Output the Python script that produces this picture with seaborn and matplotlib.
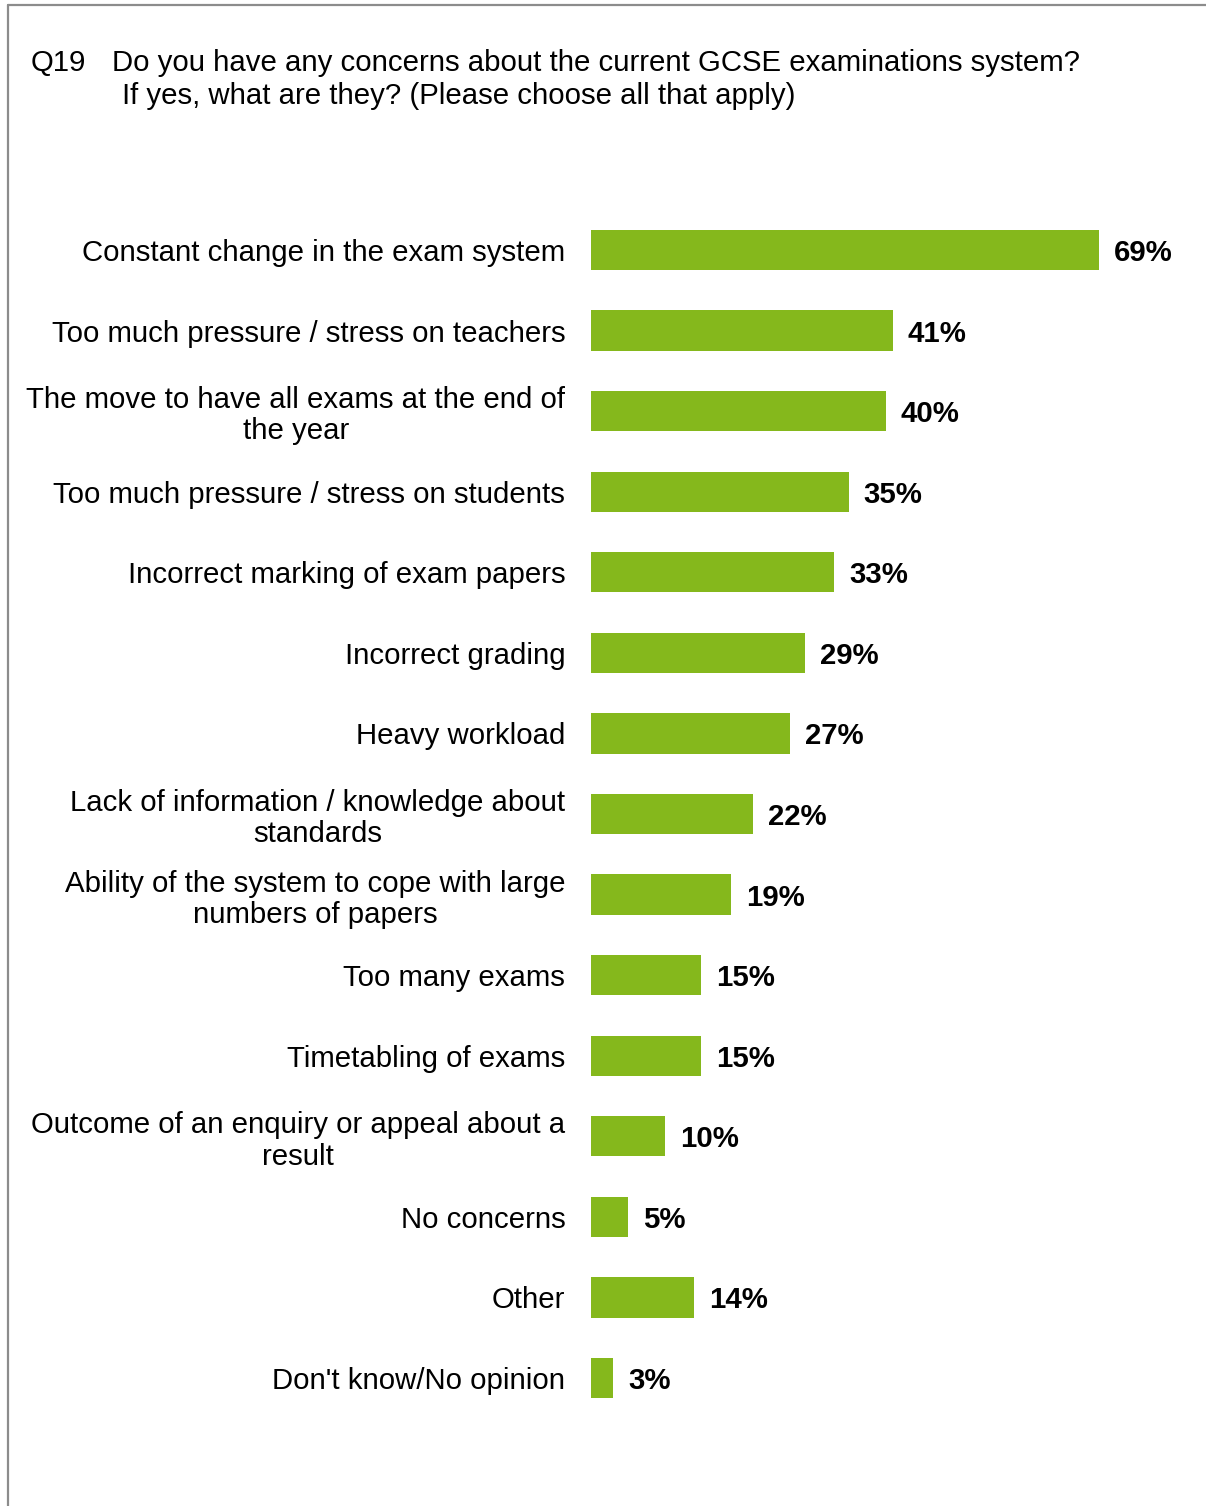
import matplotlib
matplotlib.use("Agg")
import matplotlib.pyplot as plt
import matplotlib.lines as mlines
import matplotlib.transforms as mtransforms
import seaborn as sns
import pandas as pd

# Survey responses (share of respondents, %)
categories = [
    "Constant change in the exam system",
    "Too much pressure / stress on teachers",
    "The move to have all exams at the end of\nthe year",
    "Too much pressure / stress on students",
    "Incorrect marking of exam papers",
    "Incorrect grading",
    "Heavy workload",
    "Lack of information / knowledge about\nstandards",
    "Ability of the system to cope with large\nnumbers of papers",
    "Too many exams",
    "Timetabling of exams",
    "Outcome of an enquiry or appeal about a\nresult",
    "No concerns",
    "Other",
    "Don't know/No opinion",
]
values = [69, 41, 40, 35, 33, 29, 27, 22, 19, 15, 15, 10, 5, 14, 3]

title_q = "Q19"
title_line1 = "Do you have any concerns about the current GCSE examinations system?"
title_line2 = "If yes, what are they? (Please choose all that apply)"

df = pd.DataFrame({"category": categories, "value": values})

sns.set_style("white")
plt.rcParams["font.family"] = ["Liberation Sans", "DejaVu Sans"]
plt.rcParams["text.color"] = "black"

FS = 21.2
W, H = 1206, 1506
fig = plt.figure(figsize=(W / 100, H / 100), dpi=100)
ax = fig.add_axes([591 / W, 87.7 / H, 589 / W, 1208.6 / H])

sns.barplot(data=df, x="value", y="category", orient="h", color="#85B81C",
            width=0.5, saturation=1, edgecolor="none", ax=ax)

ax.set_xlim(0, 80)
ax.set_ylim(14.5, -0.5)
ax.set_xlabel("")
ax.set_ylabel("")
ax.set_xticks([])
for s in ax.spines.values():
    s.set_visible(False)

ax.tick_params(axis="y", length=0, pad=18.5, labelsize=FS, labelcolor="black")
for lab in ax.get_yticklabels():
    lab.set_multialignment("center")
    lab.set_linespacing(1.15)

# Value labels to the right of each bar
offset = mtransforms.ScaledTranslation(15 / 100, 0, fig.dpi_scale_trans)
for i, v in enumerate(values):
    ax.text(v, i, f"{v}%", ha="left", va="center_baseline", fontsize=FS,
            fontweight="bold", color="black", transform=ax.transData + offset)

# Question text
fig.text(31 / W, 1 - 71 / H, title_q, fontsize=FS, va="baseline", ha="left")
fig.text(112 / W, 1 - 71 / H, title_line1, fontsize=FS, va="baseline", ha="left")
fig.text(122 / W, 1 - 104 / H, title_line2, fontsize=FS, va="baseline", ha="left")

# Frame lines along top and left edges
border = "#8c8c8c"
fig.add_artist(mlines.Line2D([8 / W, 1.0], [1 - 5 / H, 1 - 5 / H],
                             color=border, lw=1.6, transform=fig.transFigure))
fig.add_artist(mlines.Line2D([8 / W, 8 / W], [1 - 5 / H, 0.0],
                             color=border, lw=1.6, transform=fig.transFigure))

fig.savefig("out.png", dpi=100, facecolor="white")
